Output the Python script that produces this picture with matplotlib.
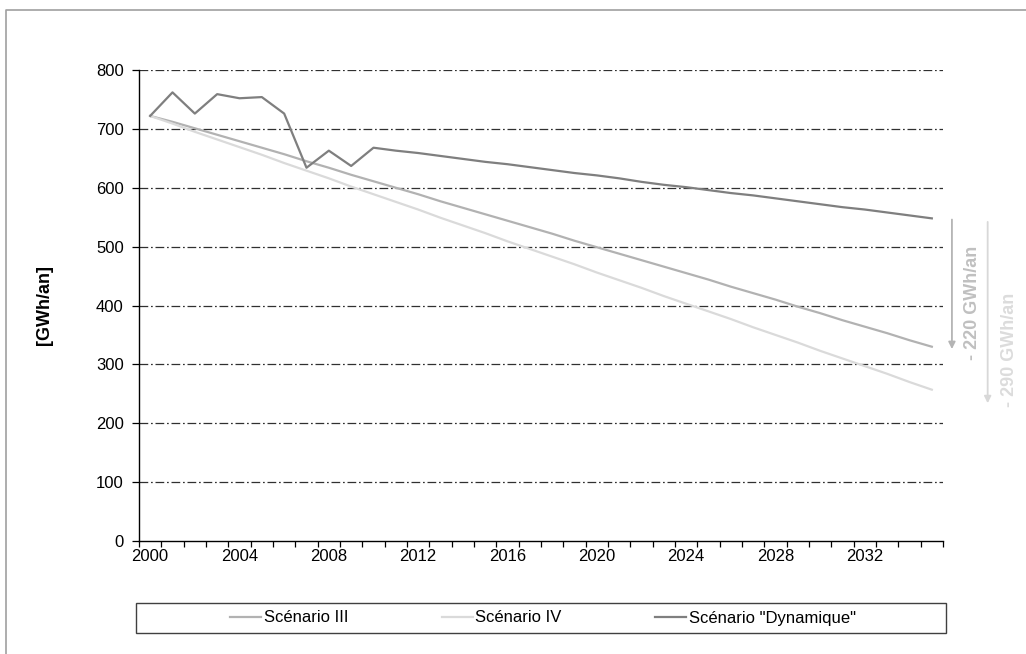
import matplotlib.pyplot as plt
from matplotlib.lines import Line2D
from matplotlib.patches import Rectangle

plt.rcParams['font.family'] = ['Liberation Sans', 'DejaVu Sans']

years = list(range(2000, 2036))
scen3 = [722, 712, 701, 690, 679, 668, 657, 645, 634, 622, 611, 600, 589, 577,
         566, 555, 544, 533, 522, 510, 499, 488, 477, 466, 455, 444, 432, 421,
         410, 398, 387, 375, 364, 353, 341, 330]
scen4 = [722, 709, 695, 682, 669, 656, 642, 629, 616, 602, 589, 576, 563, 549,
         536, 523, 509, 496, 483, 470, 456, 443, 430, 416, 403, 390, 377, 363,
         350, 337, 323, 310, 297, 284, 270, 257]
dyna = [722, 762, 726, 759, 752, 754, 726, 634, 663, 637, 668, 663, 659, 654,
        649, 644, 640, 635, 630, 625, 621, 616, 610, 605, 601, 596, 591, 587,
        582, 577, 572, 567, 563, 558, 553, 548]
labels = ['Scénario III', 'Scénario IV', 'Scénario "Dynamique"']
colors = ['#b2b2b2', '#dadada', '#7f7f7f']
xlabels = [2000, 2004, 2008, 2012, 2016, 2020, 2024, 2028, 2032]

W, H = 1026, 654
fig = plt.figure(figsize=(W / 100, H / 100), dpi=100)
ax = fig.add_axes([139 / W, 1 - 541 / H, (943 - 139) / W, (541 - 70) / H])

for y in range(100, 900, 100):
    ax.axhline(y, color='#303030', lw=0.9, ls=(0, (7, 2.2, 1.4, 2.2)), zorder=1)

for vals, c in zip([scen3, scen4, dyna], colors):
    ax.plot(years, vals, color=c, lw=1.6, zorder=3)

ax.set_xlim(1999.5, 2035.5)
ax.set_ylim(0, 800)
ax.set_yticks(range(0, 900, 100))
ax.set_xticks([y - 0.5 for y in range(2000, 2037)])
ax.set_xticklabels([])
ax.set_xticks(xlabels, minor=True)
ax.set_xticklabels([str(x) for x in xlabels], minor=True)
ax.tick_params(axis='x', which='major', direction='out', length=4, width=0.9)
ax.tick_params(axis='x', which='minor', length=0, labelsize=12, pad=6)
ax.tick_params(axis='y', direction='out', length=5, width=0.9, labelsize=12, pad=6)
for s in ['top', 'right']:
    ax.spines[s].set_visible(False)
for s in ['left', 'bottom']:
    ax.spines[s].set_linewidth(1.0)

fig.text(45 / W, 1 - 305 / H, '[GWh/an]', rotation=90, fontsize=13,
         fontweight='bold', ha='center', va='center')

# difference arrows
ax.annotate('', xy=(2035.9, 326), xytext=(2035.9, 546), annotation_clip=False,
            arrowprops=dict(arrowstyle='-|>', color='#b4b4b4', lw=1.3,
                            mutation_scale=10, shrinkA=0, shrinkB=0))
ax.annotate('', xy=(2037.5, 234), xytext=(2037.5, 542), annotation_clip=False,
            arrowprops=dict(arrowstyle='-|>', color='#d8d8d8', lw=1.3,
                            mutation_scale=10, shrinkA=0, shrinkB=0))
ax.text(2036.8, 404, '- 220 GWh/an', rotation=90, fontsize=13, fontweight='bold',
        color='#c0c0c0', ha='center', va='center', clip_on=False)
ax.text(2038.5, 324, '- 290 GWh/an', rotation=90, fontsize=13, fontweight='bold',
        color='#dcdcdc', ha='center', va='center', clip_on=False)

# legend with wide frame
fig.add_artist(Rectangle((136 / W, 1 - 633 / H), (946 - 136) / W, 30 / H,
                         transform=fig.transFigure, fill=False,
                         edgecolor='#404040', lw=1.0))
handles = [Line2D([], [], color=c, lw=1.6) for c in colors]
fig.legend(handles, labels, loc='center', bbox_to_anchor=(543 / W, 1 - 618 / H),
           ncol=3, frameon=False, fontsize=12, handlelength=1.86,
           handletextpad=0.15, columnspacing=5.6)

# outer chart border
fig.add_artist(Line2D([6 / W, 6 / W, 1], [0, 1 - 9.5 / H, 1 - 9.5 / H],
                      transform=fig.transFigure, color='#a0a0a0', lw=1.2))

fig.savefig('out.png', dpi=100)
